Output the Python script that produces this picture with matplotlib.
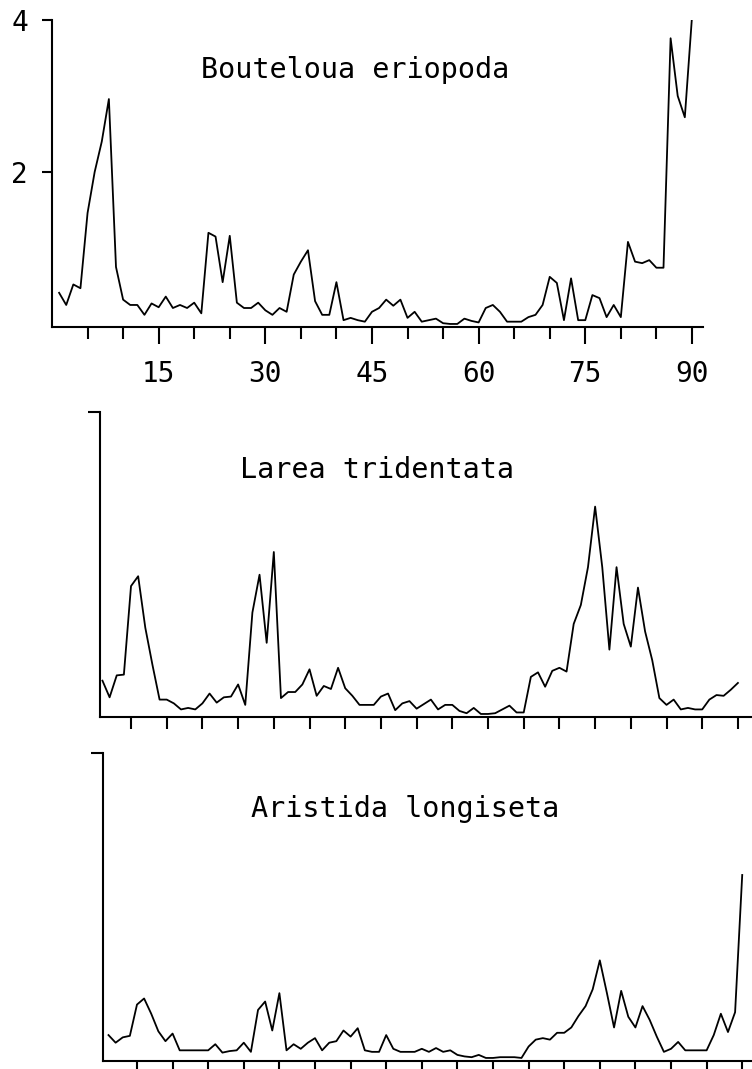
import numpy as np
import matplotlib
matplotlib.use("Agg")
import matplotlib.pyplot as plt
from matplotlib.ticker import FixedLocator

# ---------------- data ----------------
sites = np.arange(1, 91)

titles = ["Bouteloua eriopoda", "Larea tridentata", "Aristida longiseta"]

bouteloua = [0.41, 0.25, 0.52, 0.47, 1.46, 2.00, 2.40, 2.96, 0.75, 0.32,
             0.25, 0.25, 0.12, 0.27, 0.22, 0.36, 0.21, 0.25, 0.21, 0.28,
             0.14, 1.20, 1.15, 0.55, 1.16, 0.28, 0.21, 0.21, 0.28, 0.18,
             0.12, 0.21, 0.16, 0.65, 0.82, 0.97, 0.30, 0.12, 0.12, 0.55,
             0.05, 0.08, 0.05, 0.03, 0.16, 0.21, 0.32, 0.24, 0.32, 0.08,
             0.16, 0.03, 0.05, 0.07, 0.01, 0.00, 0.00, 0.07, 0.04, 0.02,
             0.21, 0.25, 0.16, 0.03, 0.03, 0.03, 0.09, 0.12, 0.25, 0.62,
             0.54, 0.05, 0.60, 0.05, 0.05, 0.38, 0.34, 0.09, 0.25, 0.09,
             1.08, 0.82, 0.80, 0.84, 0.74, 0.74, 3.76, 3.00, 2.72, 4.03]

larrea = [0.45, 0.23, 0.52, 0.53, 1.70, 1.83, 1.15, 0.66, 0.20, 0.20,
          0.15, 0.07, 0.09, 0.07, 0.15, 0.28, 0.16, 0.23, 0.24, 0.40,
          0.13, 1.35, 1.85, 0.95, 2.15, 0.22, 0.30, 0.30, 0.40, 0.60,
          0.25, 0.38, 0.34, 0.62, 0.35, 0.25, 0.13, 0.13, 0.13, 0.24,
          0.28, 0.06, 0.15, 0.18, 0.08, 0.14, 0.20, 0.07, 0.13, 0.13,
          0.05, 0.02, 0.09, 0.01, 0.01, 0.02, 0.07, 0.12, 0.03, 0.03,
          0.50, 0.56, 0.37, 0.58, 0.62, 0.57, 1.20, 1.45, 1.95, 2.75,
          1.95, 0.86, 1.95, 1.20, 0.90, 1.68, 1.10, 0.72, 0.22, 0.13,
          0.20, 0.07, 0.09, 0.07, 0.07, 0.20, 0.26, 0.25, 0.33, 0.42]

aristida = [0.30, 0.20, 0.27, 0.29, 0.70, 0.78, 0.58, 0.35, 0.22, 0.32,
            0.10, 0.10, 0.10, 0.10, 0.10, 0.18, 0.07, 0.09, 0.10, 0.20,
            0.08, 0.63, 0.74, 0.36, 0.85, 0.10, 0.18, 0.12, 0.20, 0.26,
            0.10, 0.20, 0.22, 0.36, 0.28, 0.39, 0.10, 0.08, 0.08, 0.30,
            0.12, 0.08, 0.08, 0.08, 0.12, 0.08, 0.13, 0.08, 0.10, 0.04,
            0.02, 0.01, 0.04, 0.00, 0.00, 0.01, 0.01, 0.01, 0.00, 0.15,
            0.24, 0.26, 0.24, 0.33, 0.33, 0.40, 0.55, 0.68, 0.90, 1.28,
            0.85, 0.40, 0.88, 0.54, 0.40, 0.68, 0.50, 0.28, 0.08, 0.12,
            0.21, 0.10, 0.10, 0.10, 0.10, 0.30, 0.58, 0.34, 0.60, 2.40]

major_x = [15, 30, 45, 60, 75, 90]
minor_x = [5, 10, 20, 25, 35, 40, 50, 55, 65, 70, 80, 85]
all_x = list(range(5, 91, 5))
y_ticks = [2, 4]

# ---------------- figure ----------------
W, H = 752, 1069
plt.rcParams['font.family'] = ['DejaVu Sans Mono']
fig = plt.figure(figsize=(W / 100, H / 100), dpi=100)

def px_axes(left, right, top, bottom):
    return fig.add_axes([left / W, 1 - bottom / H, (right - left) / W, (bottom - top) / H])

LW_SPINE = 1.5
LW_DATA = 1.3
FS = 20

def style(ax):
    for s in ['top', 'right']:
        ax.spines[s].set_visible(False)
    for s in ['left', 'bottom']:
        ax.spines[s].set_linewidth(LW_SPINE)
        ax.spines[s].set_capstyle('projecting')
    ax.patch.set_alpha(0)

# Top panel
ax1 = px_axes(52, 702.6, 20, 327)
ax1.plot(sites, bouteloua, color='black', lw=LW_DATA)
ax1.set_xlim(0, 91.5)
ax1.set_ylim(-0.04, 4.0)
style(ax1)
ax1.xaxis.set_major_locator(FixedLocator(major_x))
ax1.xaxis.set_minor_locator(FixedLocator(minor_x))
ax1.set_yticks(y_ticks)
ax1.set_xticklabels([str(v) for v in major_x])
ax1.set_yticklabels([str(v) for v in y_ticks])
ax1.tick_params(axis='x', which='major', length=12, width=LW_SPINE, pad=12, labelsize=FS)
ax1.tick_params(axis='x', which='minor', length=8.6, width=LW_SPINE)
ax1.tick_params(axis='y', which='major', length=7.2, width=LW_SPINE, pad=10, labelsize=FS)

# Middle panel
ax2 = px_axes(99.6, 752.2, 412, 717)
ax2.plot(sites, larrea, color='black', lw=LW_DATA)
ax2.set_xlim(0.6, 92)
ax2.set_ylim(-0.03, 4.0)
style(ax2)
ax2.set_xticks(all_x)
ax2.set_xticklabels([])
ax2.set_yticks([4])
ax2.set_yticklabels([])
ax2.tick_params(axis='x', length=8.3, width=LW_SPINE)
ax2.tick_params(axis='y', length=8.6, width=LW_SPINE)

# Bottom panel
ax3 = px_axes(102.8, 752.9, 753, 1061)
ax3.plot(sites, aristida, color='black', lw=LW_DATA)
ax3.set_xlim(0.2, 91.5)
ax3.set_ylim(-0.04, 4.0)
style(ax3)
ax3.set_xticks(all_x)
ax3.set_xticklabels([])
ax3.set_yticks([4])
ax3.set_yticklabels([])
ax3.tick_params(axis='x', length=8.3, width=LW_SPINE)
ax3.tick_params(axis='y', length=8.6, width=LW_SPINE)

# Titles
title_pos = [(355, 78), (377, 478), (405, 817)]
for t, (cx, by) in zip(titles, title_pos):
    fig.text(cx / W, 1 - by / H, t, ha='center', va='baseline', fontsize=20.5,
             color='black')

fig.savefig('out.png', dpi=100)
